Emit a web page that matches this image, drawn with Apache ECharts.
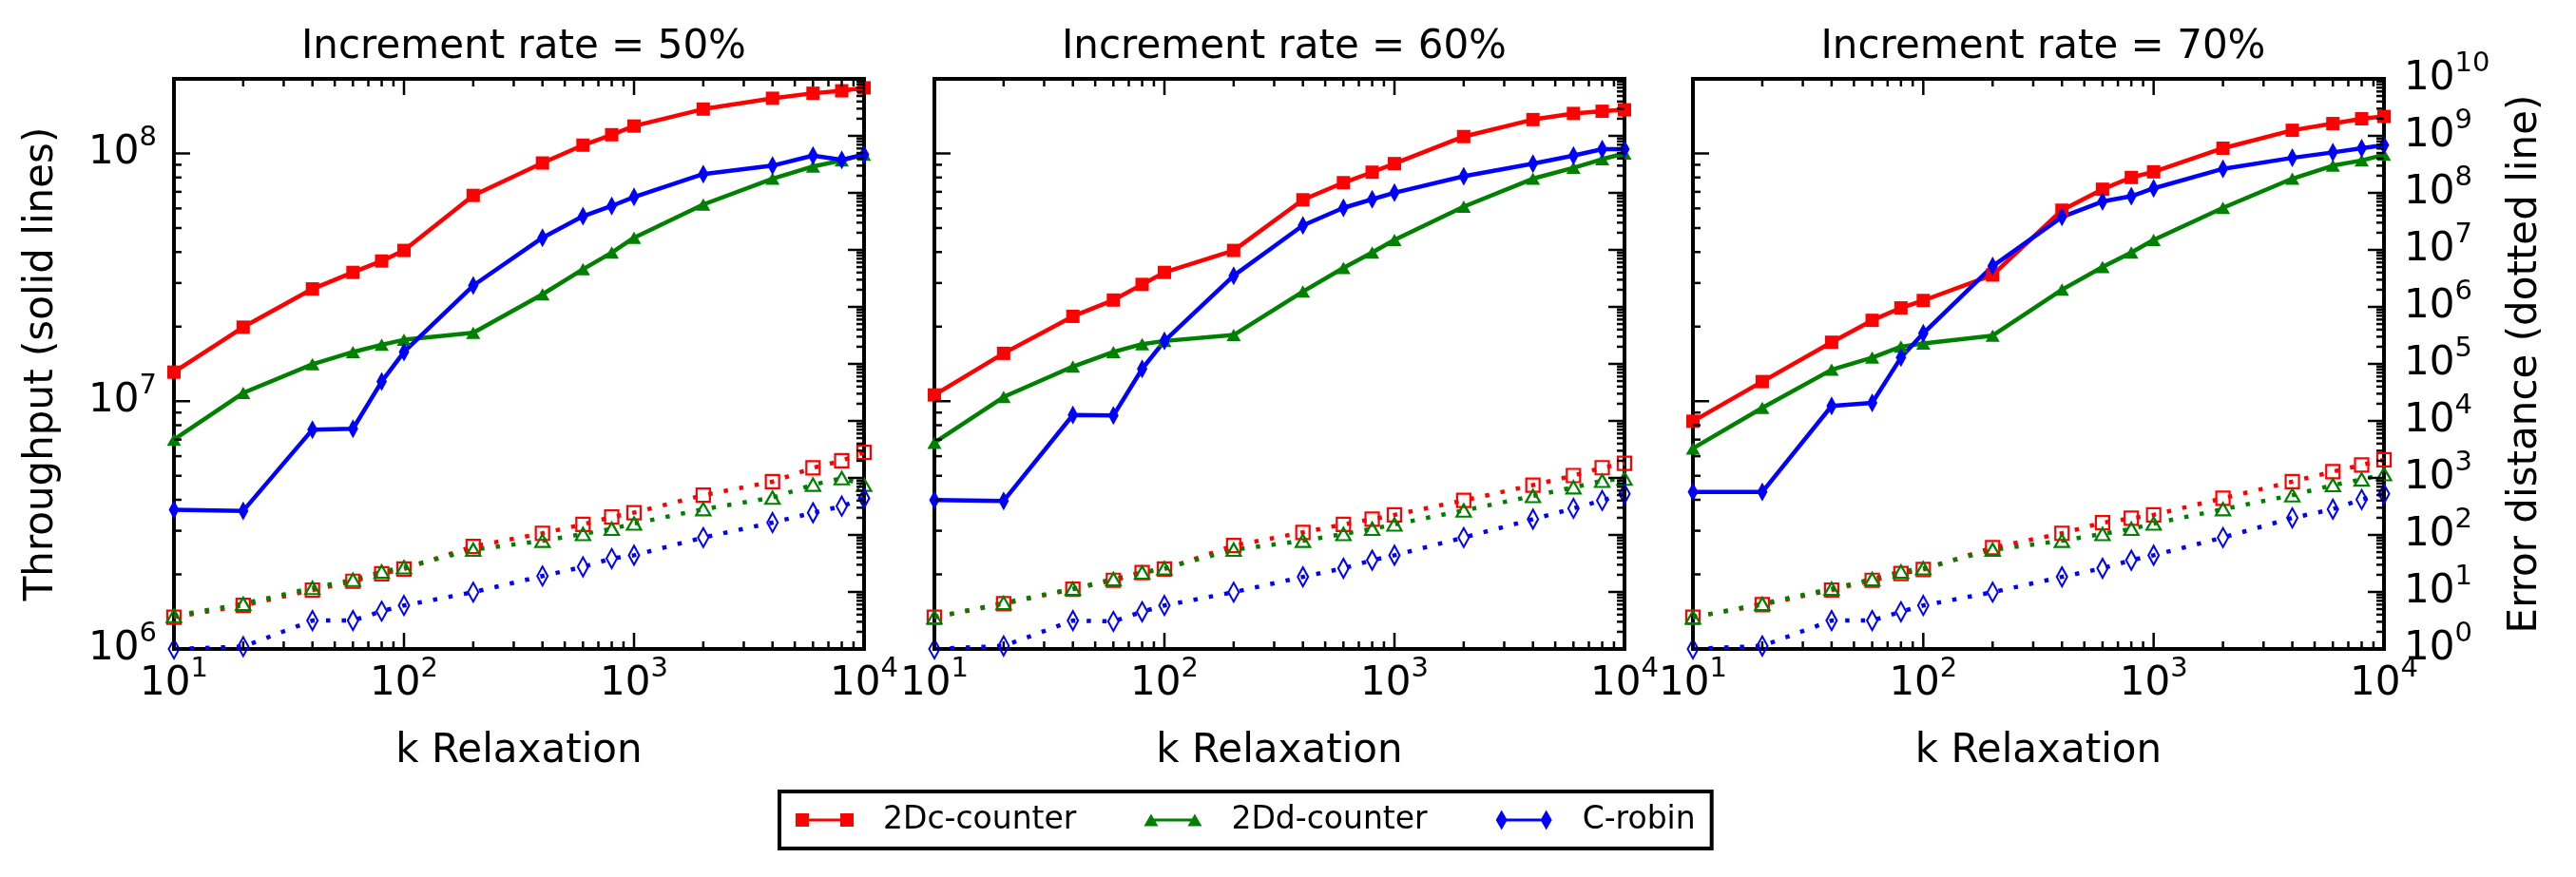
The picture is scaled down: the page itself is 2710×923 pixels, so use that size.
<!DOCTYPE html>
<html>
<head>
<meta charset="utf-8">
<title>Throughput and error distance vs k relaxation</title>
<script src="https://cdn.jsdelivr.net/npm/echarts@6/dist/echarts.min.js"></script>
<style>
  html, body { margin: 0; padding: 0; background: #fff; }
  #main { width: 2710px; height: 923px; }
</style>
</head>
<body>
<div id="main"></div>
<script>
// k relaxation (x axis, log scale)
var kValues = [10, 20, 40, 60, 80, 100, 200, 400, 600, 800, 1000, 2000, 4000, 6000, 8000, 10000];
var panelTitles = ['Increment rate = 50%', 'Increment rate = 60%', 'Increment rate = 70%'];
var seriesNames = ['2Dc-counter', '2Dd-counter', 'C-robin'];

// throughput, solid lines (left axis)
var thr50_2Dc = [1.31e7, 1.99e7, 2.84e7, 3.31e7, 3.68e7, 4.06e7, 6.77e7, 9.15e7, 1.08e8, 1.19e8, 1.29e8, 1.51e8, 1.67e8, 1.75e8, 1.79e8, 1.84e8];
var thr50_2Dd = [7.0e6, 1.08e7, 1.41e7, 1.58e7, 1.69e7, 1.77e7, 1.89e7, 2.70e7, 3.41e7, 3.98e7, 4.57e7, 6.22e7, 7.91e7, 8.86e7, 9.37e7, 9.9e7];
var thr50_crobin = [3.65e6, 3.61e6, 7.68e6, 7.74e6, 1.20e7, 1.58e7, 2.93e7, 4.57e7, 5.58e7, 6.14e7, 6.67e7, 8.26e7, 8.93e7, 9.8e7, 9.42e7, 9.9e7];

var thr60_2Dc = [1.06e7, 1.56e7, 2.20e7, 2.56e7, 2.96e7, 3.31e7, 4.06e7, 6.50e7, 7.62e7, 8.40e7, 9.1e7, 1.17e8, 1.37e8, 1.45e8, 1.48e8, 1.50e8];
var thr60_2Dd = [6.8e6, 1.04e7, 1.38e7, 1.58e7, 1.70e7, 1.75e7, 1.85e7, 2.77e7, 3.45e7, 3.98e7, 4.48e7, 6.10e7, 7.91e7, 8.75e7, 9.48e7, 1.0e8];
var thr60_crobin = [3.99e6, 3.96e6, 8.8e6, 8.75e6, 1.35e7, 1.75e7, 3.21e7, 5.12e7, 6.03e7, 6.53e7, 6.94e7, 8.09e7, 9.1e7, 9.8e7, 1.04e8, 1.04e8];

var thr70_2Dc = [8.3e6, 1.20e7, 1.73e7, 2.12e7, 2.38e7, 2.55e7, 3.23e7, 5.90e7, 7.17e7, 8.0e7, 8.43e7, 1.05e8, 1.24e8, 1.32e8, 1.38e8, 1.41e8];
var thr70_2Dd = [6.45e6, 9.4e6, 1.34e7, 1.50e7, 1.66e7, 1.71e7, 1.84e7, 2.82e7, 3.48e7, 3.98e7, 4.48e7, 6.03e7, 7.91e7, 8.93e7, 9.37e7, 9.88e7];
var thr70_crobin = [4.30e6, 4.30e6, 9.57e6, 9.84e6, 1.50e7, 1.88e7, 3.51e7, 5.54e7, 6.40e7, 6.72e7, 7.23e7, 8.67e7, 9.6e7, 1.01e8, 1.05e8, 1.08e8];

// error distance, dotted lines (right axis)
var err50_2Dc = [3.6, 5.8, 10.8, 15.4, 20.8, 25.2, 63, 107, 153, 206, 246, 498, 860, 1500, 2000, 2800];
var err50_2Dd = [3.8, 6.2, 11.8, 16.3, 22.7, 27.1, 55, 79, 104, 128, 158, 283, 450, 760, 990, 760];
var err50_crobin = [1, 1.1, 3.15, 3.15, 4.6, 5.8, 9.9, 19, 27.6, 38.6, 44, 90, 165, 245, 320, 440];

var err60_2Dc = [3.6, 6.2, 11.2, 16, 21.9, 25.2, 65, 111, 153, 189, 225, 403, 748, 1100, 1510, 1805];
var err60_2Dd = [3.6, 6.4, 11.4, 16.8, 22, 26, 55, 79, 104, 128, 153, 269, 481, 684, 891, 975];
var err60_crobin = [1, 1.13, 3.15, 3.04, 4.5, 5.8, 9.9, 18.4, 26, 36, 44, 90, 189, 293, 403, 525];

var err70_2Dc = [3.6, 6.0, 10.8, 16, 21, 24.8, 60, 107, 164, 196, 225, 440, 861, 1290, 1683, 2080];
var err70_2Dd = [3.6, 6.2, 11.4, 16.8, 22.7, 26, 55, 79, 104, 128, 158, 283, 498, 748, 940, 1162];
var err70_crobin = [1, 1.13, 3.15, 3.15, 4.5, 5.8, 9.9, 18.4, 26, 36, 44, 90, 199, 283, 418, 525];

var throughput = [
  [thr50_2Dc, thr50_2Dd, thr50_crobin],
  [thr60_2Dc, thr60_2Dd, thr60_crobin],
  [thr70_2Dc, thr70_2Dd, thr70_crobin]
];
var errorDist = [
  [err50_2Dc, err50_2Dd, err50_crobin],
  [err60_2Dc, err60_2Dd, err60_crobin],
  [err70_2Dc, err70_2Dd, err70_crobin]
];

var fontFam = 'DejaVu Sans';
var colors = ['#ff0000', '#008000', '#0000ff'];
var symbols = [['rect', 14], ['triangle', [15, 13]], ['diamond', [11, 20]]];
var gridBoxes = [
  { left: 183, top: 83, width: 726, height: 600 },
  { left: 983, top: 83, width: 726, height: 600 },
  { left: 1781, top: 83, width: 727, height: 600 }
];

// legend icons: marker - line - marker, like matplotlib
var legendIcons = [
  'path://M0 0 M61 21 M0 3.5 H14 V17.5 H0 Z M47 3.5 H61 V17.5 H47 Z M14 9 H47 V12 H14 Z',
  'path://M0 0 M61 21 M0 17 L7.5 4 L15 17 Z M46 17 L53.5 4 L61 17 Z M7.5 9 H53.5 V12 H7.5 Z',
  'path://M0 0 M61 21 M1 10.5 L7 0 L13 10.5 L7 21 Z M48 10.5 L54 0 L60 10.5 L54 21 Z M7 9 H54 V12 H7 Z'
];

function powLabel(v) {
  var lg = Math.log10(v);
  var e = Math.round(lg);
  if (Math.abs(lg - e) > 0.01) return '';
  return '{b|10}{s|' + e + '}';
}
// superscript is lifted by half its bottom padding; boxes kept short so
// neighbouring labels on the 10-decade axis are not treated as overlapping
var supRich = {
  b: { fontSize: 42, fontFamily: fontFam, lineHeight: 24, color: '#000' },
  s: { fontSize: 29, fontFamily: fontFam, lineHeight: 10, height: 2, padding: [0, 0, 32, 0], color: '#000' }
};

function pairs(vals) {
  return kValues.map(function (k, i) { return [k, vals[i]]; });
}

var chart = echarts.init(document.getElementById('main'));

var titles = [], grids = [], xAxes = [], yAxes = [], series = [];
for (var p = 0; p < 3; p++) {
  var b = gridBoxes[p];
  grids.push({ left: b.left, top: b.top, width: b.width, height: b.height,
    show: true, borderColor: '#000', borderWidth: 4, backgroundColor: '#fff' });
  titles.push({ text: panelTitles[p], left: b.left + b.width / 2, top: 24, textAlign: 'center',
    textStyle: { fontFamily: fontFam, fontSize: 42, fontWeight: 'normal', color: '#000' } });
  xAxes.push({
    type: 'log', logBase: 10, gridIndex: p, min: 10, max: 10000,
    axisLine: { show: false }, axisTick: { show: false }, splitLine: { show: false },
    axisLabel: { formatter: powLabel, rich: supRich, margin: 25, showMinLabel: true, showMaxLabel: true, hideOverlap: false },
    name: 'k Relaxation', nameLocation: 'middle', nameGap: 87,
    nameTextStyle: { fontFamily: fontFam, fontSize: 42, color: '#000', lineHeight: 42 }
  });
  yAxes.push({
    type: 'log', logBase: 10, gridIndex: p, position: 'left', min: 1e6, max: 2e8,
    axisLine: { show: false }, axisTick: { show: false }, splitLine: { show: false },
    axisLabel: { show: p === 0, formatter: powLabel, rich: supRich, margin: 18, showMinLabel: true, hideOverlap: false },
    name: p === 0 ? 'Throughput (solid lines)' : '', nameLocation: 'middle', nameGap: 118, nameRotate: 90,
    nameTextStyle: { fontFamily: fontFam, fontSize: 42, color: '#000', lineHeight: 42 }
  });
  yAxes.push({
    type: 'log', logBase: 10, gridIndex: p, position: 'right', min: 1, max: 9.99e9,
    axisLine: { show: false }, axisTick: { show: false }, splitLine: { show: false },
    axisLabel: { show: p === 2, formatter: powLabel, rich: supRich, margin: 21, showMinLabel: true, showMaxLabel: true, hideOverlap: false },
    name: p === 2 ? 'Error distance (dotted line)' : '', nameLocation: 'middle', nameGap: 128, nameRotate: 90,
    nameTextStyle: { fontFamily: fontFam, fontSize: 42, color: '#000', lineHeight: 42 }
  });
  for (var s = 0; s < 3; s++) {
    series.push({
      name: seriesNames[s], type: 'line', xAxisIndex: p, yAxisIndex: 2 * p,
      data: pairs(throughput[p][s]),
      symbol: symbols[s][0], symbolSize: symbols[s][1],
      lineStyle: { color: colors[s], width: 4.5 },
      itemStyle: { color: colors[s] },
      z: 3
    });
    series.push({
      name: seriesNames[s] + ' error', type: 'line', xAxisIndex: p, yAxisIndex: 2 * p + 1,
      data: pairs(errorDist[p][s]),
      symbol: symbols[s][0], symbolSize: symbols[s][1],
      lineStyle: { color: colors[s], width: 4.5, type: [4.5, 12] },
      itemStyle: { color: 'rgba(255,255,255,0)', borderColor: colors[s], borderWidth: 2.2 },
      z: 2
    });
  }
}

var option = {
  backgroundColor: '#fff',
  animation: false,
  textStyle: { fontFamily: fontFam },
  title: titles,
  grid: grids,
  xAxis: xAxes,
  yAxis: yAxes,
  legend: {
    left: 820, top: 833, orient: 'horizontal',
    itemWidth: 61, itemHeight: 21, itemGap: 71,
    padding: [12, 17], borderColor: '#000', borderWidth: 4, backgroundColor: '#fff',
    selectedMode: false,
    textStyle: { fontFamily: fontFam, fontSize: 33, color: '#000', lineHeight: 36, padding: [0, 0, 0, 26] },
    data: seriesNames.map(function (n, i) { return { name: n, icon: legendIcons[i] }; })
  },
  series: series
};
chart.setOption(option);

// inward ticks on all four sides, placed with the axes' own scales
function tickLine(x1, y1, x2, y2) {
  return { type: 'line', silent: true, z: 5,
    shape: { x1: x1, y1: y1, x2: x2, y2: y2 },
    style: { stroke: '#000', lineWidth: 2.5 } };
}
var marks = [];
gridBoxes.forEach(function (b, p) {
  var top = b.top, bot = b.top + b.height, lft = b.left, rgt = b.left + b.width;
  var d, m, v, x, y, len;
  for (d = 1; d <= 4; d++) {
    for (m = 1; m <= 9; m++) {
      v = m * Math.pow(10, d);
      if (v > 10000) break;
      x = chart.convertToPixel({ xAxisIndex: p }, v);
      len = m === 1 ? 17 : 8;
      marks.push(tickLine(x, bot, x, bot - len), tickLine(x, top, x, top + len));
    }
  }
  for (d = 6; d <= 8; d++) {
    for (m = 1; m <= 9; m++) {
      v = m * Math.pow(10, d);
      if (v > 2e8) break;
      y = chart.convertToPixel({ yAxisIndex: 2 * p }, v);
      len = m === 1 ? 17 : 8;
      marks.push(tickLine(lft, y, lft + len, y));
    }
  }
  for (d = 0; d <= 9; d++) {
    for (m = 1; m <= 9; m++) {
      v = m * Math.pow(10, d);
      y = chart.convertToPixel({ yAxisIndex: 2 * p + 1 }, v);
      len = m === 1 ? 17 : 8;
      marks.push(tickLine(rgt, y, rgt - len, y));
    }
  }
});
chart.setOption({ graphic: marks });
</script>
</body>
</html>
